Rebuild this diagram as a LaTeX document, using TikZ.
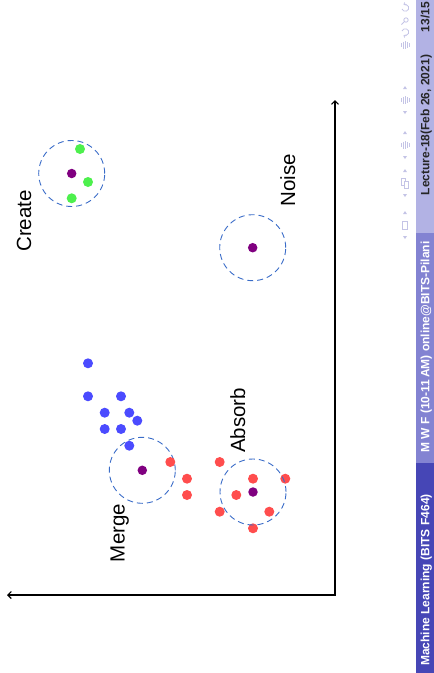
\documentclass[tikz,border=0pt]{standalone}
\usepackage{fontspec}
\setmainfont{Liberation Sans}
\usetikzlibrary{arrows.meta}
\definecolor{ptblue}{HTML}{4B4BFF}
\definecolor{ptred}{HTML}{FF4D4D}
\definecolor{ptgreen}{HTML}{4DF04D}
\definecolor{ptpurple}{HTML}{800080}
\definecolor{ringblue}{HTML}{3A6CC8}
\definecolor{footdark}{HTML}{4646B6}
\definecolor{footmid}{HTML}{8383D2}
\definecolor{footlight}{HTML}{B2B2E4}
\definecolor{navgray}{HTML}{C4C4E6}
\tikzset{
  dot/.style={circle, inner sep=0pt, minimum size=10pt},
  bluedot/.style={dot, fill=ptblue},
  reddot/.style={dot, fill=ptred},
  greendot/.style={dot, fill=ptgreen},
  centre/.style={dot, fill=ptpurple, minimum size=9.5pt},
  ring/.style={circle, draw=ringblue, line width=0.9pt, dash pattern=on 6pt off 4pt,
    minimum size=66pt, inner sep=0pt},
  tag/.style={rotate=90, anchor=base, font=\fontsize{20.5}{24}\selectfont, inner sep=0pt},
  foottext/.style={rotate=90, anchor=base, font=\fontsize{12}{14}\selectfont\bfseries, inner sep=0pt},
  axis/.style={line width=1.1pt, {Straight Barb[length=3.5pt,width=7pt]}-{Straight Barb[length=3.5pt,width=7pt]}},
  nav/.style={draw=navgray, line width=0.8pt}
}
\begin{document}
\begin{tikzpicture}[x=1pt,y=-1pt]
\useasboundingbox (0,0) rectangle (434,673);
% footline
\fill[footlight] (416,0) rectangle (434,233);
\fill[footmid] (416,233) rectangle (434,463);
\fill[footdark] (416,463) rectangle (434,673);
\node[foottext, text=white] (author) at (429.3,580) {Machine Learning (BITS F464)};
\node[foottext, text=white] (title) at (429.3,347) {M W F (10-11\,AM) online@BITS-Pilani};
\node[foottext, text=black!85] (date) at (429.3,125) {Lecture-18(Feb 26, 2021)};
\node[foottext, text=black!85] (page) at (429.3,17) {13/15};
% navigation symbols
\foreach \yc in {100,145,183,225} {
  \fill[navgray] (403,\yc-11) -- (407,\yc-11) -- (405,\yc-14) -- cycle;
  \fill[navgray] (403,\yc+11) -- (407,\yc+11) -- (405,\yc+14) -- cycle;
}
\draw[nav] (402.5,221) rectangle (407.5,229);
\draw[nav] (401.5,178.5) rectangle (405.5,185.5);
\draw[nav, fill=white] (404,181) rectangle (408,188);
\foreach \yc in {45,100,145}
  \foreach \xo/\h in {401/2,403/3.5,405/4,407/3,409/2}
    \draw[nav] (\xo,\yc-\h) -- (\xo,\yc+\h);
\draw[nav, -{Straight Barb[length=1.5pt,width=3pt]}] (402,9) arc[start angle=200, end angle=480, radius=3.5pt];
\draw[nav] (406,20) circle[radius=2.2pt] (404.3,21.7) -- (401.5,24.5);
\draw[nav, -{Straight Barb[length=1.5pt,width=3pt]}] (402,31) arc[start angle=160, end angle=-120, radius=3.5pt];
% axes
\coordinate (origin) at (335,595);
\coordinate (xtip) at (7,595);
\coordinate (ytip) at (335,100);
\draw[axis] (xtip) -- (origin) -- (ytip);
% create
\node[centre] (create) at (71.7,173.5) {};
\node[ring] (createring) at (create) {};
\foreach \x/\y [count=\i] in {80/149, 88/182, 71.7/198.3}
  \node[greendot] (g\i) at (\x,\y) {};
\node[tag] (createtag) at (31,221) {Create};
% noise
\node[centre] (noise) at (252.7,247.7) {};
\node[ring] (noisering) at (noise) {};
\node[tag] (noisetag) at (295,180) {Noise};
% merge
\foreach \x/\y [count=\i] in {88/363.3, 88/396.3, 121/396.3, 104.7/412.7, 129.3/412.7,
    137.3/420.7, 104.7/429, 121/429, 129.3/445.7}
  \node[bluedot] (b\i) at (\x,\y) {};
\node[centre] (merge) at (142.3,470.3) {};
\node[ring] (mergering) at (merge) {};
\node[tag] (mergetag) at (124.5,533) {Merge};
% absorb
\foreach \x/\y [count=\i] in {170.3/462, 187/478.7, 187/495, 219.7/462, 253/478.7,
    285.3/478.7, 236.3/495, 219.7/511.7, 269.3/511.7, 253/528.3}
  \node[reddot] (r\i) at (\x,\y) {};
\node[centre] (absorb) at (253,492) {};
\node[ring] (absorbring) at (absorb) {};
\node[tag] (absorbtag) at (245,420.5) {Absorb};
\end{tikzpicture}
\end{document}
